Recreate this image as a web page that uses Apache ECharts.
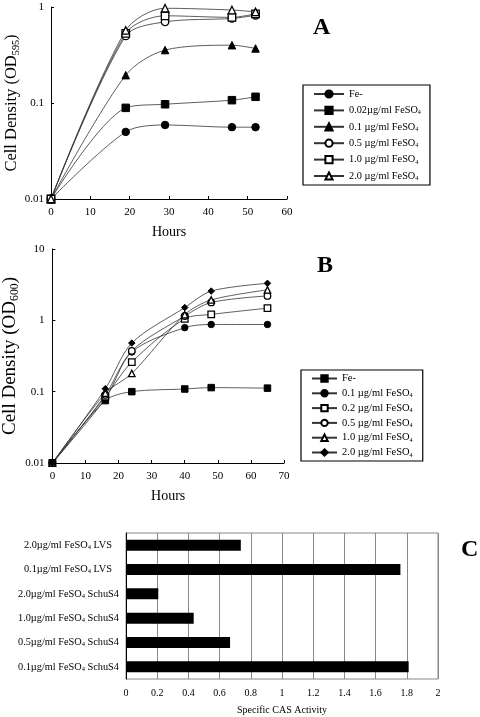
<!DOCTYPE html>
<html><head><meta charset="utf-8">
<script src="https://cdn.jsdelivr.net/npm/echarts@6/dist/echarts.min.js"></script>
<style>html,body{margin:0;padding:0;background:#fff}#c{width:480px;height:717px}</style>
</head><body><div id="c"></div>
<script>
// ---- Panel A data ----
const hoursA = [0, 19, 29, 46, 52];
const aFe = [0.01, 0.050, 0.059, 0.056, 0.056];
const aFe002 = [0.01, 0.089, 0.097, 0.107, 0.116];
const aFe01 = [0.01, 0.195, 0.356, 0.40, 0.37];
const aFe05 = [0.01, 0.50, 0.70, 0.76, 0.82];
const aFe10 = [0.01, 0.53, 0.81, 0.78, 0.85];
const aFe20 = [0.01, 0.57, 0.97, 0.93, 0.89];
const namesA = ['Fe-', '0.02µg/ml FeSO4', '0.1 µg/ml FeSO4', '0.5 µg/ml FeSO4', '1.0 µg/ml FeSO4', '2.0 µg/ml FeSO4'];

// ---- Panel B data ----
const hoursB = [0, 16, 24, 40, 48, 65];
const bFe = [0.01, 0.075, 0.100, 0.109, 0.114, 0.112];
const bFe01 = [0.01, 0.080, 0.36, 0.79, 0.875, 0.875];
const bFe02 = [0.01, 0.085, 0.26, 1.05, 1.21, 1.48];
const bFe05 = [0.01, 0.090, 0.373, 1.15, 1.78, 2.2];
const bFe10 = [0.01, 0.095, 0.18, 1.2, 1.93, 2.67];
const bFe20 = [0.01, 0.110, 0.48, 1.51, 2.57, 3.3];
const namesB = ['Fe-', '0.1 µg/ml FeSO4', '0.2 µg/ml FeSO4', '0.5 µg/ml FeSO4', '1.0 µg/ml FeSO4', '2.0 µg/ml FeSO4'];

// ---- Panel C data ----
const casCats = ['2.0µg/ml FeSO4 LVS', '0.1µg/ml FeSO4 LVS', '2.0µg/ml FeSO4 SchuS4', '1.0µg/ml FeSO4 SchuS4', '0.5µg/ml FeSO4 SchuS4', '0.1µg/ml FeSO4 SchuS4'];
const casVals = [0.736, 1.759, 0.207, 0.434, 0.667, 1.812];

const FONT = 'Liberation Serif';
function subify(s) {
  const i = s.indexOf('FeSO4');
  if (i < 0) return '{t|' + s + '}';
  const pre = s.slice(0, i + 4), post = s.slice(i + 5);
  return '{t|' + pre + '}{s|4}' + (post ? '{t|' + post + '}' : '');
}

const chart = echarts.init(document.getElementById('c'), null, {renderer: 'canvas'});

const lineCol = '#333';
function lineSeries(name, xs, ys, sym, filled, size, xi, yi) {
  return {
    type: 'line', name: name, xAxisIndex: xi, yAxisIndex: yi,
    data: xs.map((x, i) => [x, ys[i]]),
    smooth: 0.3, symbol: sym, symbolSize: size, showSymbol: true,
    lineStyle: {color: lineCol, width: 0.8},
    itemStyle: filled ? {color: '#000', borderColor: '#000', borderWidth: 1}
                      : {color: '#fff', borderColor: '#000', borderWidth: 1.3},
    emphasis: {disabled: true}, animation: false
  };
}

const symA = [['circle', 1], ['rect', 1], ['triangle', 1], ['circle', 0], ['rect', 0], ['triangle', 0]];
const dataA = [aFe, aFe002, aFe01, aFe05, aFe10, aFe20];
const symB = [['rect', 1], ['circle', 1], ['rect', 0], ['circle', 0], ['triangle', 0], ['diamond', 1]];
const dataB = [bFe, bFe01, bFe02, bFe05, bFe10, bFe20];

const series = [];
namesA.forEach((n, i) => series.push(lineSeries('A|' + n, hoursA, dataA[i], symA[i][0], symA[i][1], 7.5, 0, 0)));
namesB.forEach((n, i) => series.push(lineSeries('B|' + n, hoursB, dataB[i], symB[i][0], symB[i][1], 6.5, 1, 1)));
series.push({
  type: 'bar', xAxisIndex: 2, yAxisIndex: 2, data: casVals, barWidth: 11,
  itemStyle: {color: '#000'}, animation: false, emphasis: {disabled: true}
});

const axLabel = {fontFamily: FONT, fontSize: 11, color: '#000'};
const richLegend = (fs) => ({
  t: {fontFamily: FONT, fontSize: fs, color: '#000'},
  s: {fontFamily: FONT, fontSize: fs * 0.6, color: '#000', padding: [fs * 0.45, 0, 0, 0]}
});
const richTitle = (fs) => ({
  t: {fontFamily: FONT, fontSize: fs, color: '#000'},
  s: {fontFamily: FONT, fontSize: fs * 0.62, color: '#000', padding: [fs * 0.5, 0, 0, 0]}
});

const option = {
  backgroundColor: '#fff',
  animation: false,
  title: [
    {text: 'A', left: 308, top: 11, textStyle: {fontFamily: FONT, fontSize: 24, fontWeight: 'bold', color: '#000'}},
    {text: 'B', left: 312, top: 249, textStyle: {fontFamily: FONT, fontSize: 24, fontWeight: 'bold', color: '#000'}},
    {text: 'C', left: 456, top: 533, textStyle: {fontFamily: FONT, fontSize: 24, fontWeight: 'bold', color: '#000'}}
  ],
  legend: [
    {
      data: namesA.map(n => 'A|' + n), orient: 'vertical', left: 303, top: 85,
      itemWidth: 30, itemHeight: 9, itemGap: 4.4, padding: [3, 9, 3, 10],
      borderColor: '#000', borderWidth: 1.2, selectedMode: false,
      formatter: n => subify(n.split('|')[1]),
      textStyle: {fontFamily: FONT, fontSize: 10.3, lineHeight: 12, color: '#000', rich: richLegend(10.3)}
    },
    {
      data: namesB.map(n => 'B|' + n), orient: 'vertical', left: 301, top: 370,
      itemWidth: 25, itemHeight: 8, itemGap: 3.8, padding: [3, 10, 3, 10],
      borderColor: '#000', borderWidth: 1.2, selectedMode: false,
      formatter: n => subify(n.split('|')[1]),
      textStyle: {fontFamily: FONT, fontSize: 10.5, lineHeight: 11, color: '#000', rich: richLegend(10.5)}
    }
  ],
  grid: [
    {left: 51, top: 7, width: 236, height: 192},
    {left: 51, top: 249, width: 233, height: 214},
    {left: 126, top: 533, width: 312, height: 146, show: true, borderColor: '#888', borderWidth: 1, backgroundColor: 'transparent'}
  ],
  xAxis: [
    {gridIndex: 0, type: 'value', min: 0, max: 60, interval: 10,
     axisLine: {lineStyle: {color: '#000', width: 1}}, axisTick: {inside: true, length: 3, lineStyle: {color: '#000'}},
     splitLine: {show: false}, axisLabel: Object.assign({margin: 8}, axLabel),
     name: 'Hours', nameLocation: 'middle', nameGap: 26, nameTextStyle: {fontFamily: FONT, fontSize: 14, color: '#000'}},
    {gridIndex: 1, type: 'value', min: 0, max: 70, interval: 10,
     axisLine: {lineStyle: {color: '#000', width: 1}}, axisTick: {inside: true, length: 3, lineStyle: {color: '#000'}},
     splitLine: {show: false}, axisLabel: Object.assign({margin: 8}, axLabel),
     name: 'Hours', nameLocation: 'middle', nameGap: 26, nameTextStyle: {fontFamily: FONT, fontSize: 14, color: '#000'}},
    {gridIndex: 2, type: 'value', min: 0, max: 2, interval: 0.2,
     axisLine: {lineStyle: {color: '#000', width: 1}}, axisTick: {length: 3, lineStyle: {color: '#000'}},
     splitLine: {show: true, lineStyle: {color: '#888', width: 1}},
     axisLabel: {fontFamily: FONT, fontSize: 10, color: '#000', margin: 9},
     name: 'Specific CAS Activity', nameLocation: 'middle', nameGap: 26, nameTextStyle: {fontFamily: FONT, fontSize: 10, color: '#000'}}
  ],
  yAxis: [
    {gridIndex: 0, type: 'log', logBase: 10, min: 0.01, max: 1,
     axisLine: {show: true, lineStyle: {color: '#000', width: 1}}, axisTick: {show: true, inside: true, length: 3, lineStyle: {color: '#000'}},
     splitLine: {show: false}, minorTick: {show: false},
     axisLabel: Object.assign({margin: 7, formatter: v => String(+v.toPrecision(3))}, axLabel),
     name: '{t|Cell Density (OD}{s|595}{t|)}', nameLocation: 'middle', nameGap: 24, nameRotate: 90,
     nameTextStyle: {rich: richTitle(16.5)}},
    {gridIndex: 1, type: 'log', logBase: 10, min: 0.01, max: 10,
     axisLine: {show: true, lineStyle: {color: '#000', width: 1}}, axisTick: {show: true, inside: true, length: 3, lineStyle: {color: '#000'}},
     splitLine: {show: false}, minorTick: {show: false},
     axisLabel: Object.assign({margin: 8, formatter: v => String(+v.toPrecision(3))}, axLabel),
     name: '{t|Cell Density (OD}{s|600}{t|)}', nameLocation: 'middle', nameGap: 30, nameRotate: 90,
     nameTextStyle: {rich: richTitle(19)}},
    {gridIndex: 2, type: 'category', data: casCats, inverse: true,
     axisLine: {show: true, lineStyle: {color: '#000', width: 1}}, axisTick: {show: false},
     splitLine: {show: false},
     axisLabel: {margin: 7, formatter: v => subify(v) + (v.endsWith('LVS') ? '{p|}' : ''),
       rich: {t: {fontFamily: FONT, fontSize: 10.3, color: '#000'},
              s: {fontFamily: FONT, fontSize: 6.5, color: '#000', padding: [4, 0, 0, 0]},
              p: {width: 7}}}}
  ],
  series: series
};
chart.setOption(option);
</script>
</body></html>
